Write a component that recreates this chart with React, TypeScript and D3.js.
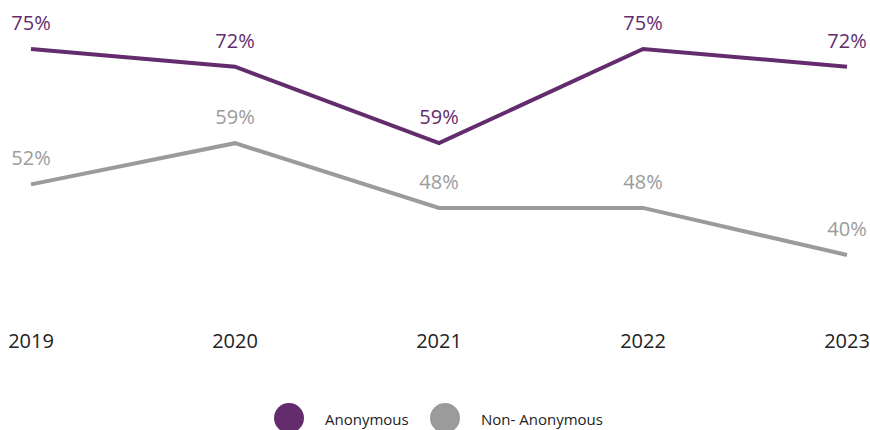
import React from "react";
import * as d3 from "d3";

const years = ["2019", "2020", "2021", "2022", "2023"];
const anonymous = [75, 72, 59, 75, 72];
const nonAnonymous = [52, 59, 48, 48, 40];
const seriesNames = ["Anonymous", "Non- Anonymous"];
const seriesColors = ["#632c6c", "#9b9b9b"];

const W = 870;
const H = 430;
const FONT = "'Open Sans', sans-serif";

export default function App() {
  const x = d3.scalePoint<string>().domain(years).range([31, 847]);
  const y = d3.scaleLinear().domain([40, 75]).range([255, 49]);
  const line = d3
    .line<number>()
    .x((_, i) => x(years[i]) as number)
    .y((d) => y(d));

  const series = [anonymous, nonAnonymous];

  return (
    <svg
      width={W}
      height={H}
      style={{ position: "absolute", left: 0, top: 0, display: "block" }}
      fontFamily={FONT}
    >
      <rect width={W} height={H} fill="#ffffff" />
      {series.map((vals, si) => (
        <g key={si}>
          <path
            d={line(vals) ?? ""}
            fill="none"
            stroke={seriesColors[si]}
            strokeWidth={4}
            strokeLinejoin="miter"
          />
          {vals.map((v, i) => (
            <text
              key={i}
              x={x(years[i])}
              y={y(v) - 19}
              textAnchor="middle"
              fontSize={20}
              fill={seriesColors[si]}
            >
              {v}%
            </text>
          ))}
        </g>
      ))}
      {years.map((yr) => (
        <text
          key={yr}
          x={x(yr)}
          y={348}
          textAnchor="middle"
          fontSize={20}
          fill="#222222"
        >
          {yr}
        </text>
      ))}
      {seriesNames.map((name, i) => (
        <g key={name} transform={`translate(${289 + i * 156},418)`}>
          <circle r={15} fill={seriesColors[i]} />
          <text x={36} y={7} fontSize={15} fill="#222222">
            {name}
          </text>
        </g>
      ))}
    </svg>
  );
}
